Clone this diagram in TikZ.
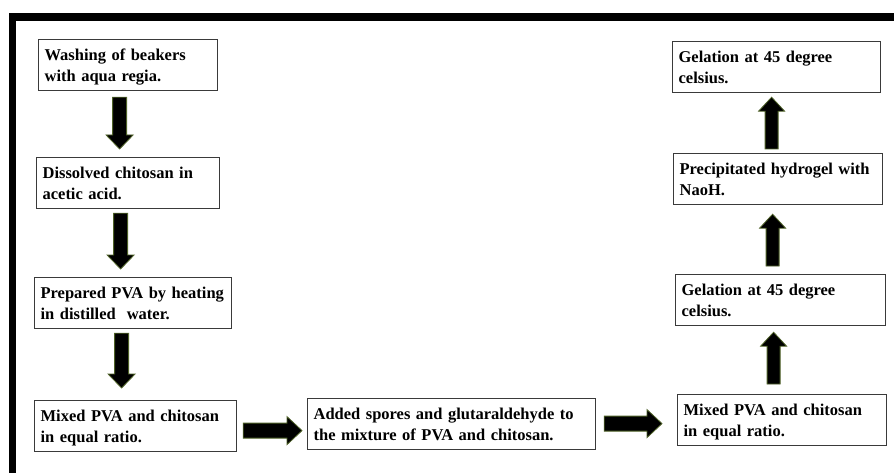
\documentclass[tikz,border=0pt]{standalone}
\usepackage{fontspec}
\setmainfont{Liberation Serif}
\usetikzlibrary{calc}
\definecolor{boxgray}{HTML}{3A3A3A}
\definecolor{olivedge}{HTML}{4F6228}
\newcommand\twol[2]{\rule{0pt}{16pt}\mbox{#1}\\\rule[-4pt]{0pt}{4pt}\mbox{#2}}
\newcommand\arrD[2]{\filldraw[barrow] let \p1=(#1),\p2=(#2) in
  (\x1-7pt,\y1) -- (\x1+7pt,\y1) -- (\x1+7pt,\y2+14pt) -- (\x1+13.5pt,\y2+14pt) -- (\x1,\y2)
  -- (\x1-13.5pt,\y2+14pt) -- (\x1-7pt,\y2+14pt) -- cycle;}
\newcommand\arrU[2]{\filldraw[barrow] let \p1=(#1),\p2=(#2) in
  (\x1-6.5pt,\y1) -- (\x1+6.5pt,\y1) -- (\x1+6.5pt,\y2-14pt) -- (\x1+13pt,\y2-14pt) -- (\x1,\y2)
  -- (\x1-13pt,\y2-14pt) -- (\x1-6.5pt,\y2-14pt) -- cycle;}
\newcommand\arrR[2]{\filldraw[barrow] let \p1=(#1),\p2=(#2) in
  (\x1,\y1+7.5pt) -- (\x2-15pt,\y1+7.5pt) -- (\x2-15pt,\y1+14pt) -- (\x2,\y1)
  -- (\x2-15pt,\y1-14pt) -- (\x2-15pt,\y1-7.5pt) -- (\x1,\y1-7.5pt) -- cycle;}
\begin{document}
\begin{tikzpicture}[x=1pt,y=-1pt,
  box/.style={draw=boxgray, line width=1.2pt, fill=white, inner xsep=6pt, inner ysep=0pt,
    align=left, font=\bfseries\fontsize{16.5}{21}\selectfont, anchor=north west, minimum height=51pt},
  barrow/.style={fill=black, draw=olivedge, line width=0.8pt, line join=miter}]
\useasboundingbox (0,0) rectangle (894,473);
\fill[white] (0,0) rectangle (894,473);
% frame
\fill[black] (9,13) rectangle (16,473);
\fill[black] (9,13) rectangle (894,21);
% boxes
\node[box, text width=167pt] (b1) at (38,39) {\twol{Washing of beakers}{with aqua regia.}};
\node[box, text width=171pt] (b2) at (36,157) {\twol{Dissolved chitosan in}{acetic acid.}};
\node[box, text width=185pt] (b3) at (34,277) {\twol{Prepared PVA by heating}{in distilled\ \ water.}};
\node[box, text width=190pt] (b4) at (34,400) {\twol{Mixed PVA and chitosan}{in equal ratio.}};
\node[box, text width=276pt] (b5) at (307,398) {\twol{Added spores and glutaraldehyde to}{the mixture of PVA and chitosan.}};
\node[box, text width=197pt] (b6) at (677,394) {\twol{Mixed PVA and chitosan}{in equal ratio.}};
\node[box, text width=198pt] (b7) at (675,274) {\twol{Gelation at 45 degree}{celsius.}};
\node[box, text width=197pt] (b8) at (673,153) {\twol{Precipitated hydrogel with}{NaoH.}};
\node[box, text width=196pt] (b9) at (672,41) {\twol{Gelation at 45 degree}{celsius.}};
% arrow end points
\coordinate (d1s) at ($(b1.south)+(-8.5,6)$);
\coordinate (d1t) at ($(b2.north)+(-8.5,-8)$);
\coordinate (d2s) at ($(b2.south)+(-7.5,4)$);
\coordinate (d2t) at ($(b3.north)+(-11.5,-8)$);
\coordinate (d3s) at ($(b3.south)+(-11.5,4)$);
\coordinate (d3t) at ($(b4.north)+(-14,-12)$);
\coordinate (r1s) at ($(b4.east)+(6,4.5)$);
\coordinate (r1t) at ($(b5.west)+(-5,0)$);
\coordinate (r2s) at ($(b5.east)+(8,-0.5)$);
\coordinate (r2t) at ($(b6.west)+(-15,0)$);
\coordinate (u1s) at ($(b6.north)+(-8.5,-10)$);
\coordinate (u1t) at ($(b7.south)+(-7,6)$);
\coordinate (u2s) at ($(b7.north)+(-8,-8)$);
\coordinate (u2t) at ($(b8.south)+(-5.5,9)$);
\coordinate (u3s) at ($(b8.north)+(-6.5,-4)$);
\coordinate (u3t) at ($(b9.south)+(-5,4)$);
% arrows
\arrD{d1s}{d1t}
\arrD{d2s}{d2t}
\arrD{d3s}{d3t}
\arrR{r1s}{r1t}
\arrR{r2s}{r2t}
\arrU{u1s}{u1t}
\arrU{u2s}{u2t}
\arrU{u3s}{u3t}
\end{tikzpicture}
\end{document}
